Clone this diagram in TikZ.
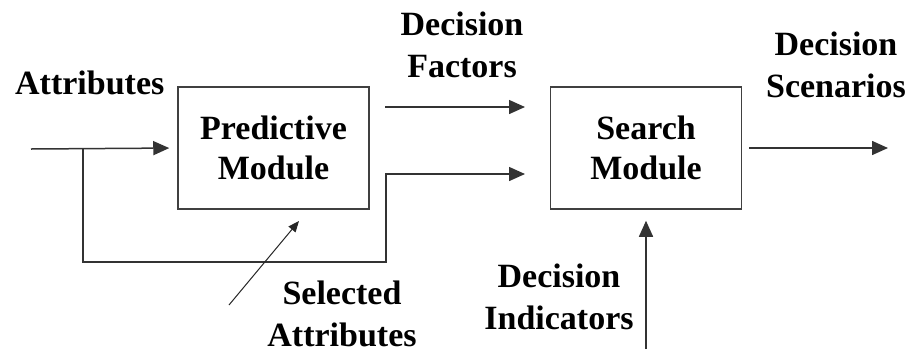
\documentclass[tikz,border=0pt]{standalone}
\usepackage{fontspec}
\setmainfont{Liberation Serif}
\usetikzlibrary{arrows.meta}
\begin{document}
\begin{tikzpicture}[x=1pt,y=-1pt,
  box/.style={draw=black!75, line width=1.5pt, minimum width=191pt, minimum height=122pt, inner sep=0pt, align=center, font=\fontsize{34}{40}\selectfont\bfseries},
  lbl/.style={align=center, font=\fontsize{34}{42}\selectfont\bfseries, inner sep=0pt, anchor=base},
  conn/.style={line width=1.5pt, draw=black!80, -{Triangle[length=16pt,width=14pt]}},
  thinarrow/.style={line width=1pt, draw=black!85, -{Triangle[length=11pt,width=9pt]}}]
\useasboundingbox (0,0) rectangle (909,349);
\fill[white] (0,0) rectangle (909,349);
% modules
\node[box] (pm) at (273.5,148) {Predictive\\Module};
\node[box] (sm) at (646,148) {Search\\Module};
% labels (base anchor = baseline of last line)
\node[lbl, anchor=base west] (lattr) at (15,94) {Attributes};
\node[lbl] (lfac) at (462,77) {Decision\\Factors};
\node[lbl] (lscen) at (836,97) {Decision\\Scenarios};
\node[lbl] (lsel) at (342,346) {Selected\\Attributes};
\node[lbl] (lind) at (559,329) {Decision\\Indicators};
% coordinates
\coordinate (a0) at (31,149);
\coordinate (a1) at (83,149);
\coordinate (k1) at (386,262);
\coordinate (t2) at (525,174);
\coordinate (f0) at (385,107);
\coordinate (f1) at (525,107);
\coordinate (o1) at (888,148);
\coordinate (di) at (646,349);
\coordinate (d0) at (229,305);
\coordinate (d1) at (299,221);
% connectors
\draw[conn, shorten >=8pt] (a0) -- (pm.west);
\draw[conn] (a1) |- (k1) |- (t2);
\draw[conn] (f0) -- (f1);
\draw[conn, shorten <=7pt] (sm.east) -- (o1);
\draw[conn, shorten >=11pt] (di) -- (sm.south);
\draw[thinarrow] (d0) -- (d1);
\end{tikzpicture}
\end{document}
